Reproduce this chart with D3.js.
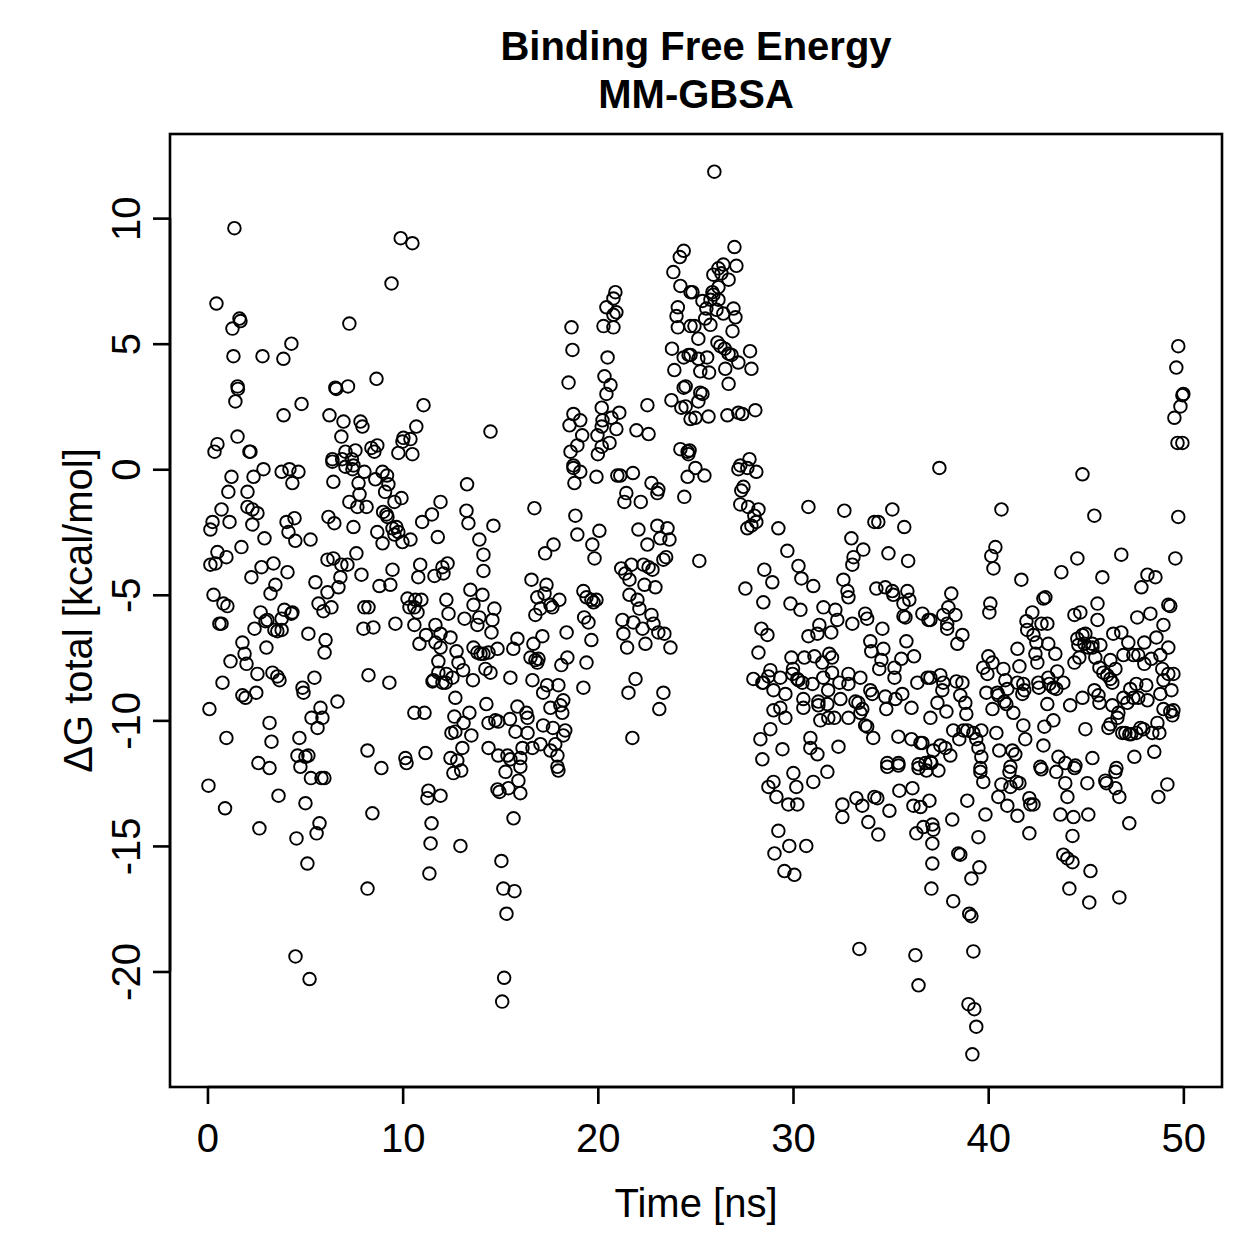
<!DOCTYPE html>
<html>
<head>
<meta charset="utf-8">
<script src="https://cdn.jsdelivr.net/npm/d3@7"></script>
<style>
  body { margin: 0; background: #fff; }
  text { font-family: "Liberation Sans", Arial, Helvetica, sans-serif; fill: #000; }
</style>
</head>
<body>
<svg id="chart"></svg>
<script>
// [time (ns), dG total (kcal/mol)], grouped by region
const upper_0_12 = [[1.38,9.6],[9.9,9.2],[10.5,9.0],[9.43,7.4],[0.46,6.6],[1.64,6.0],[1.69,5.9],[1.28,5.6],[7.27,5.8],[1.33,4.5],[2.82,4.5],[3.89,4.4],[4.3,5.0],[1.54,3.3],[1.56,3.2],[1.43,2.7],[6.6,3.2],[6.55,3.25],[7.2,3.3],[8.66,3.6],[4.82,2.6],[3.9,2.15],[11.07,2.55],[6.25,2.15],[6.97,1.9],[7.84,1.9],[7.94,1.7],[6.86,1.3],[10.7,1.7],[10.04,1.25],[9.99,1.1],[10.4,1.2],[9.78,0.65],[10.5,0.6],[1.54,1.3],[0.51,1.0],[0.36,0.7],[2.15,0.7],[2.2,0.7],[7.07,0.7],[7.58,0.75],[8.4,0.85],[8.7,0.95],[8.55,0.7],[6.4,0.4],[6.9,0.4],[7.4,0.4]];

const upper_12_25 = [[14.5,1.5],[18.65,5.65],[18.7,4.75],[18.5,3.45],[20.9,7.05],[20.8,6.8],[20.44,6.45],[20.95,6.25],[20.8,6.15],[20.29,5.7],[20.8,5.65],[20.5,4.45],[20.34,3.7],[20.65,3.35],[20.44,3.0],[20.2,2.45],[21.1,2.25],[20.7,2.05],[20.24,1.95],[20.2,1.7],[20.95,1.6],[19.98,1.35],[20.6,1.05],[20.2,0.9],[20.0,0.6],[22.54,2.55],[21.98,1.55],[22.6,1.4],[18.75,2.2],[19.1,1.95],[18.55,1.75],[19.2,1.35],[18.95,0.95],[18.6,0.7],[18.75,0.15],[24.4,8.7],[24.2,8.45],[23.87,7.85],[24.23,7.3],[24.75,7.05],[24.1,6.45],[24.03,6.1],[24.1,5.65],[24.75,5.7],[23.8,4.8],[24.4,4.45],[24.65,4.55],[23.92,3.95],[24.4,3.25],[23.77,2.75],[24.28,2.45],[24.5,2.5],[24.23,0.8],[24.6,0.7],[24.75,2.0]];

const upper_25_50 = [[25.97,11.85],[27.0,8.85],[26.43,8.15],[26.18,8.0],[25.92,7.75],[26.33,7.8],[26.7,7.55],[27.1,8.1],[26.18,7.25],[25.87,7.05],[25.92,6.95],[25.77,6.75],[26.18,6.75],[25.36,6.7],[24.85,7.05],[26.95,6.4],[27.05,6.05],[26.43,6.2],[26.08,6.35],[25.56,6.4],[25.5,6.0],[25.77,5.75],[24.95,5.7],[26.9,5.5],[25.15,5.2],[26.13,5.05],[26.28,4.9],[26.5,4.8],[26.7,4.6],[26.85,4.55],[27.2,4.25],[26.53,4.0],[26.7,3.4],[27.8,4.7],[27.87,4.0],[24.75,4.55],[25.15,4.4],[25.6,4.45],[25.25,3.9],[25.7,3.85],[24.5,3.3],[25.25,3.05],[25.36,3.0],[25.15,2.7],[25.0,2.05],[25.67,2.1],[26.64,2.15],[27.2,2.25],[27.4,2.2],[28.07,2.35],[24.7,0.75],[24.64,0.6],[27.77,0.4],[27.3,0.15],[49.74,4.9],[49.64,4.05],[50.0,3.0],[49.95,2.95],[49.85,2.5],[49.54,2.05],[49.7,1.05],[49.95,1.05],[37.5,0.05]];

const mid_0_12 = [[2.87,0.0],[3.8,-0.1],[4.2,0.0],[4.66,-0.1],[4.35,-0.55],[2.36,-0.3],[1.23,-0.3],[1.07,-0.9],[2.05,-0.9],[6.4,0.3],[7.07,0.1],[7.43,0.0],[7.48,0.15],[8.04,-0.1],[6.45,-0.5],[8.6,-0.4],[8.97,-0.1],[9.2,-0.25],[9.27,-0.6],[9.1,-0.9],[7.74,-0.55],[7.79,-1.0],[7.27,-1.3],[7.68,-1.5],[8.15,-1.5],[9.58,-1.3],[9.94,-1.15],[11.94,-1.3],[0.72,-1.6],[2.05,-1.5],[2.3,-1.6],[2.56,-1.75],[0.26,-2.1],[0.15,-2.4],[1.13,-2.1],[2.3,-2.2],[4.05,-2.1],[4.46,-1.95],[4.15,-2.5],[4.5,-2.85],[2.92,-2.75],[5.28,-2.8],[6.2,-1.9],[6.5,-2.15],[7.48,-2.3],[9.0,-1.7],[9.17,-1.8],[9.22,-1.9],[8.7,-2.5],[8.97,-2.95],[9.48,-2.35],[9.68,-2.3],[9.78,-2.5],[9.58,-2.6],[9.99,-2.9],[10.4,-2.8],[11.0,-2.1],[11.5,-1.8],[11.8,-2.7],[1.74,-3.1],[0.51,-3.3],[0.97,-3.5],[0.15,-3.8],[0.41,-3.75],[2.77,-3.9],[3.38,-3.75],[4.1,-4.1],[2.25,-4.3],[3.48,-4.6],[3.23,-4.95],[6.15,-3.6],[6.45,-3.55],[6.86,-3.8],[7.17,-3.8],[7.63,-3.35],[6.81,-4.3],[6.71,-4.7],[5.53,-4.5],[6.15,-4.9],[7.89,-4.2],[8.81,-4.65],[9.37,-4.6],[9.48,-4.0],[10.9,-3.8],[10.8,-4.3],[11.63,-4.25],[12.04,-3.9],[12.09,-4.15],[0.31,-5.0],[0.82,-5.35],[1.02,-5.45],[0.61,-6.15],[0.72,-6.15],[2.72,-5.7],[3.07,-6.0],[2.97,-6.05],[3.94,-5.6],[4.3,-5.75],[4.35,-5.7],[3.8,-5.95],[3.43,-6.4],[3.8,-6.4],[3.58,-6.45],[2.41,-6.35],[5.69,-5.35],[5.94,-5.65],[6.35,-5.5],[8.04,-5.5],[8.25,-5.5],[7.99,-6.35],[8.5,-6.3],[9.63,-6.15],[10.25,-5.15],[10.65,-5.2],[10.96,-5.2],[10.6,-5.5],[10.76,-5.7],[10.35,-5.5],[10.6,-6.2],[11.2,-6.6],[11.68,-6.2],[11.94,-6.55],[10.86,-6.95],[11.68,-6.9],[11.94,-7.1],[11.83,-7.65],[11.83,-8.1],[11.53,-8.45],[5.17,-6.55],[6.05,-6.8],[6.0,-7.3],[1.79,-6.9],[1.9,-7.35],[2.0,-7.75],[1.18,-7.65],[3.02,-7.1],[2.56,-8.15],[3.33,-8.1],[3.58,-8.25],[3.69,-8.4],[0.77,-8.5],[5.48,-8.3],[4.87,-8.7],[4.92,-8.9],[1.79,-9.0],[1.95,-9.1],[2.5,-8.9],[6.66,-9.25],[8.25,-8.2],[9.32,-8.5],[0.1,-9.55],[3.18,-10.1],[3.28,-10.85],[0.97,-10.7],[5.79,-9.5],[5.33,-9.9],[5.89,-9.9],[5.64,-10.3],[4.71,-10.7],[4.61,-11.4],[5.02,-11.45],[5.17,-11.4],[4.76,-11.85],[2.61,-11.7],[3.18,-11.9],[8.2,-11.2],[10.6,-9.7],[11.12,-9.7],[10.14,-11.5],[10.2,-11.7],[11.17,-11.3],[8.91,-11.9],[11.58,-8.4],[12.04,-8.5]];

const mid_12_25 = [[13.3,-0.6],[13.27,-1.65],[13.37,-2.15],[14.65,-2.25],[13.93,-2.8],[14.14,-3.4],[14.14,-4.05],[12.3,-3.75],[13.47,-4.8],[14.09,-5.0],[13.63,-5.4],[14.7,-5.55],[13.17,-5.95],[13.93,-5.9],[13.83,-6.2],[14.6,-6.0],[14.55,-6.5],[12.24,-5.2],[12.35,-5.75],[12.45,-6.7],[12.76,-7.25],[12.86,-7.7],[13.1,-8.0],[12.24,-8.15],[12.55,-8.3],[12.2,-8.5],[13.6,-8.4],[13.63,-7.1],[13.83,-7.3],[13.99,-7.35],[14.14,-7.35],[14.4,-7.3],[14.86,-7.15],[14.24,-7.95],[14.5,-8.1],[12.7,-9.1],[12.65,-9.85],[13.42,-9.7],[13.12,-10.1],[12.5,-10.5],[12.7,-10.45],[13.52,-10.6],[13.06,-11.1],[12.45,-11.5],[12.8,-11.6],[14.29,-9.35],[14.4,-10.1],[14.75,-10.0],[14.9,-10.05],[15.5,-9.95],[15.88,-9.45],[16.34,-9.7],[16.4,-9.9],[15.78,-10.45],[16.4,-10.5],[14.4,-11.1],[14.9,-11.4],[15.37,-11.4],[15.52,-11.55],[16.03,-11.5],[16.14,-11.1],[16.65,-11.1],[17.06,-10.95],[17.2,-10.2],[17.7,-10.3],[18.23,-9.2],[18.18,-9.7],[18.33,-10.4],[18.23,-10.6],[17.82,-10.95],[17.57,-11.2],[17.93,-11.4],[17.93,-11.85],[16.6,-4.4],[17.37,-4.6],[16.9,-5.1],[17.27,-4.95],[17.57,-5.4],[16.8,-5.8],[17.06,-5.55],[18.03,-5.2],[17.67,-5.5],[16.75,-1.55],[17.73,-3.0],[17.3,-3.35],[17.16,-6.65],[15.88,-6.75],[15.67,-7.15],[16.7,-6.95],[16.55,-7.5],[16.8,-7.6],[16.96,-7.55],[16.9,-7.7],[15.52,-8.3],[16.65,-8.4],[17.4,-8.6],[17.98,-8.6],[17.2,-8.9],[17.57,-9.5],[18.08,-9.4],[18.4,-6.5],[18.44,-7.5],[18.13,-7.8],[18.85,-1.85],[18.95,-2.6],[19.72,-3.0],[19.83,-3.55],[20.08,-2.45],[18.75,0.05],[19.1,-0.1],[18.8,-0.55],[19.93,-0.3],[19.26,-4.85],[19.42,-5.1],[19.67,-5.2],[19.78,-5.3],[19.93,-5.2],[19.3,-5.9],[19.52,-6.1],[19.67,-6.8],[19.42,-7.7],[19.26,-8.7],[21.0,-0.25],[21.15,-0.25],[21.8,-0.15],[21.46,-0.95],[21.36,-1.3],[22.2,-1.3],[22.75,-0.55],[23.05,-0.95],[23.1,-0.8],[24.43,-1.1],[24.6,-0.3],[22.08,-2.4],[23.05,-2.25],[23.57,-2.35],[22.54,-3.0],[23.2,-2.75],[23.67,-2.8],[23.5,-3.5],[23.36,-3.6],[21.2,-3.95],[21.41,-4.15],[21.72,-3.8],[22.34,-3.8],[22.6,-3.9],[22.8,-4.0],[21.62,-4.4],[22.39,-4.6],[22.95,-4.7],[21.62,-5.0],[22.03,-5.2],[22.13,-5.55],[22.75,-5.8],[22.85,-6.15],[21.26,-6.0],[21.82,-6.1],[22.29,-6.35],[21.31,-6.55],[21.5,-7.1],[22.44,-6.95],[23.1,-6.5],[23.41,-6.55],[23.72,-7.1],[21.93,-8.35],[21.57,-8.9],[23.36,-8.9],[23.15,-9.55],[21.77,-10.7]];

const mid_25_37 = [[25.0,0.05],[25.46,-0.25],[27.2,0.0],[27.66,0.05],[28.12,-0.1],[27.46,-0.7],[27.35,-0.85],[27.3,-1.4],[27.7,-1.5],[28.23,-1.6],[28.02,-1.85],[28.12,-2.1],[27.66,-2.35],[27.87,-2.25],[29.25,-2.35],[30.79,-1.5],[32.63,-1.65],[34.17,-2.1],[34.37,-2.1],[35.09,-1.6],[35.7,-2.3],[25.2,-3.65],[29.71,-3.25],[28.53,-4.0],[28.94,-4.5],[27.56,-4.75],[28.48,-5.3],[30.28,-3.85],[30.43,-4.35],[31.04,-4.65],[32.99,-2.75],[33.6,-3.2],[33.1,-3.5],[33.04,-3.8],[32.58,-4.4],[32.79,-4.85],[32.84,-5.1],[34.89,-3.35],[35.9,-3.65],[34.27,-4.75],[34.73,-4.7],[35.09,-4.85],[35.14,-5.0],[35.86,-4.85],[35.66,-5.35],[35.96,-5.2],[36.63,-5.75],[36.94,-6.0],[35.66,-5.85],[35.76,-5.9],[29.87,-5.35],[30.38,-5.6],[28.38,-6.35],[28.69,-6.6],[28.23,-7.3],[31.56,-5.5],[32.17,-5.6],[32.27,-6.0],[31.35,-6.2],[31.96,-6.5],[31.25,-6.55],[30.79,-6.65],[33.04,-6.15],[33.7,-5.75],[33.8,-5.95],[34.58,-6.35],[33.96,-6.85],[34.01,-7.25],[34.63,-7.15],[34.53,-7.6],[34.42,-7.95],[35.2,-7.9],[35.55,-7.55],[36.2,-7.45],[35.81,-6.85],[29.92,-7.5],[30.58,-7.5],[31.1,-7.45],[31.5,-7.7],[31.86,-7.35],[32.0,-7.5],[30.0,-7.95],[30.22,-8.35],[29.97,-8.15],[28.84,-8.0],[28.74,-8.25],[27.97,-8.35],[28.43,-8.5],[28.48,-8.5],[29.35,-8.3],[29.0,-8.8],[29.61,-8.95],[30.28,-8.4],[30.48,-8.5],[31.0,-8.55],[31.55,-8.3],[32.0,-8.1],[31.8,-8.8],[32.38,-8.5],[32.84,-8.15],[32.84,-8.55],[33.45,-8.3],[33.96,-8.8],[30.53,-9.15],[30.53,-9.5],[31.3,-9.25],[31.3,-9.4],[31.76,-9.35],[32.43,-9.15],[33.2,-9.25],[33.35,-9.3],[33.55,-9.55],[34.06,-8.95],[34.73,-9.05],[34.78,-9.55],[35.25,-9.15],[35.6,-8.95],[35.2,-8.3],[36.07,-9.5],[36.37,-8.5],[36.89,-8.3],[29.0,-9.6],[29.35,-9.5],[29.61,-9.9],[28.84,-10.35],[28.33,-10.75],[28.43,-11.55],[29.46,-11.15],[30.89,-10.7],[30.89,-11.1],[31.25,-11.35],[31.4,-10.0],[31.81,-9.9],[32.12,-9.9],[32.84,-9.9],[33.45,-9.7],[33.7,-10.2],[33.8,-10.25],[34.11,-10.7],[32.33,-11.05],[35.4,-10.65],[36.07,-10.75],[36.53,-10.9],[36.63,-10.9],[37.19,-11.2],[34.83,-11.7],[35.4,-11.7],[36.43,-11.75],[36.78,-11.7],[37.09,-11.7]];

const mid_37_50 = [[44.83,-0.2],[40.68,-1.6],[45.44,-1.85],[49.74,-1.9],[40.37,-3.1],[40.16,-3.45],[40.27,-3.95],[41.7,-4.4],[43.75,-4.1],[44.57,-3.55],[46.82,-3.4],[49.59,-3.55],[45.85,-4.3],[48.16,-4.2],[48.57,-4.3],[47.85,-4.7],[38.11,-4.95],[37.96,-5.5],[38.32,-5.8],[37.7,-5.8],[37.04,-6.0],[37.9,-6.15],[37.9,-6.35],[38.68,-6.6],[38.42,-6.95],[40.11,-5.35],[40.06,-5.7],[42.93,-5.1],[42.83,-5.15],[42.26,-5.7],[41.96,-6.05],[42.73,-6.15],[43.03,-6.15],[42.0,-6.4],[42.32,-6.6],[42.47,-6.9],[43.08,-6.95],[42.42,-7.35],[42.52,-7.7],[43.44,-7.35],[41.5,-7.15],[41.6,-7.85],[40.01,-7.45],[40.22,-7.7],[39.75,-7.9],[39.96,-8.15],[40.78,-7.95],[40.88,-8.4],[40.98,-8.75],[40.47,-8.9],[40.52,-9.0],[40.83,-9.25],[40.93,-9.35],[39.91,-8.9],[40.22,-9.55],[41.29,-9.7],[41.5,-8.5],[41.8,-8.55],[41.85,-8.8],[41.75,-8.95],[42.57,-8.5],[43.08,-8.3],[43.13,-8.55],[43.34,-8.7],[43.49,-8.75],[43.54,-8.05],[43.85,-8.5],[42.6,-8.7],[43.03,-9.35],[43.34,-10.0],[42.88,-10.25],[42.83,-11.0],[44.2,-9.4],[44.83,-9.1],[45.44,-8.8],[45.65,-9.0],[45.7,-9.3],[44.57,-6.75],[44.62,-7.0],[44.83,-6.6],[44.93,-6.95],[44.98,-6.55],[45.34,-6.95],[45.75,-7.0],[45.34,-7.1],[45.49,-7.5],[44.42,-7.7],[44.67,-7.5],[45.13,-7.1],[44.42,-5.8],[44.72,-5.7],[45.6,-5.35],[45.6,-6.0],[45.7,-7.9],[45.9,-8.1],[46.1,-8.2],[46.26,-8.35],[46.36,-8.5],[46.26,-7.6],[46.52,-7.95],[46.41,-6.55],[46.82,-6.5],[46.93,-7.4],[47.18,-6.9],[47.44,-7.4],[47.69,-7.4],[48.0,-6.9],[48.62,-6.7],[48.98,-6.2],[48.31,-5.75],[47.64,-5.9],[49.23,-7.1],[48.82,-7.4],[48.0,-7.75],[48.36,-7.55],[48.92,-7.95],[49.23,-8.15],[49.49,-8.15],[49.23,-5.4],[49.33,-5.45],[48.98,-8.4],[49.39,-8.8],[47.59,-8.55],[48.1,-8.6],[47.28,-8.75],[47.44,-9.1],[46.93,-9.1],[47.13,-9.3],[47.69,-9.1],[48.16,-9.2],[48.82,-8.95],[48.98,-9.55],[49.33,-9.65],[49.49,-9.6],[49.44,-9.8],[46.67,-9.7],[46.62,-9.9],[46.16,-10.3],[46.26,-10.15],[46.87,-10.5],[47.03,-10.5],[47.23,-10.55],[47.33,-10.55],[47.59,-10.5],[47.8,-10.3],[47.95,-10.35],[48.41,-10.5],[48.67,-10.1],[48.77,-10.5],[46.36,-9.4],[44.98,-10.35],[45.34,-11.5],[47.49,-11.45],[48.51,-11.25],[46.57,-11.9],[37.04,-8.3],[37.55,-8.2],[37.7,-8.5],[37.65,-8.8],[38.37,-8.45],[38.68,-8.5],[38.57,-9.0],[38.83,-9.3],[38.88,-9.75],[37.4,-9.3],[37.86,-9.65],[37.04,-9.9],[38.21,-10.4],[38.52,-10.75],[38.73,-10.4],[38.93,-10.4],[39.24,-10.5],[39.65,-10.4],[39.39,-10.75],[39.5,-11.1],[39.65,-11.45],[40.42,-10.5],[41.8,-10.2],[41.9,-10.75],[40.57,-11.2],[41.24,-11.2],[41.39,-11.35],[37.55,-11.0],[37.8,-11.1],[38.06,-11.4],[37.04,-11.65],[39.6,-11.9],[41.14,-11.85],[42.67,-11.85],[43.6,-11.45],[43.95,-11.7],[44.47,-11.8]];

const lower_0_25 = [[0.05,-12.6],[0.9,-13.5],[2.66,-14.3],[3.64,-13.0],[5.02,-13.3],[5.3,-12.3],[5.84,-12.3],[5.99,-12.3],[5.74,-14.1],[5.59,-14.5],[4.56,-14.7],[5.12,-15.7],[8.2,-16.7],[8.45,-13.7],[11.32,-12.8],[11.27,-13.1],[11.94,-13.0],[11.48,-14.1],[11.43,-14.9],[11.37,-16.1],[4.51,-19.4],[5.23,-20.3],[12.6,-12.1],[13.0,-12.0],[15.27,-12.05],[16.03,-11.85],[15.93,-12.4],[15.42,-12.7],[14.86,-12.75],[14.96,-12.85],[16.03,-12.9],[17.98,-12.0],[15.68,-13.9],[12.96,-15.0],[15.06,-15.6],[15.16,-16.7],[15.73,-16.8],[15.32,-17.7],[15.2,-20.25],[15.1,-21.2]];

const lower_25_37 = [[29.0,-12.45],[28.74,-12.65],[29.15,-13.05],[30.02,-12.1],[30.17,-12.65],[29.76,-13.35],[30.22,-13.35],[31.04,-12.45],[31.76,-12.05],[29.25,-14.4],[29.81,-15.0],[30.68,-15.0],[29.05,-15.3],[29.56,-16.0],[30.07,-16.15],[32.53,-13.35],[32.53,-13.85],[33.25,-13.1],[33.55,-13.4],[34.17,-13.05],[34.32,-13.1],[33.86,-14.05],[34.37,-14.55],[34.94,-13.6],[35.45,-12.8],[36.12,-12.7],[36.17,-13.4],[36.53,-13.45],[36.99,-13.2],[36.32,-14.5],[36.68,-14.25],[37.14,-14.15],[37.19,-14.35],[37.14,-14.9],[37.14,-15.7],[37.09,-16.7],[34.83,-11.85],[35.4,-11.8],[36.43,-11.9],[36.84,-12.0],[33.4,-19.1],[36.27,-19.35],[36.43,-20.55]];

const lower_37_50 = [[37.45,-12.0],[39.6,-12.05],[39.75,-12.45],[41.09,-12.05],[40.68,-12.55],[41.14,-12.65],[41.45,-12.45],[41.6,-12.5],[40.52,-13.05],[40.98,-13.4],[41.5,-13.8],[42.11,-13.1],[42.16,-13.35],[42.32,-13.35],[42.73,-11.95],[43.49,-12.05],[43.95,-12.5],[44.06,-13.05],[44.42,-11.9],[45.08,-12.5],[45.13,-13.75],[44.37,-13.85],[43.7,-13.75],[46.0,-12.4],[46.06,-12.5],[46.52,-12.05],[46.52,-12.7],[46.72,-13.05],[48.72,-13.05],[49.18,-12.55],[47.23,-14.1],[38.16,-13.95],[38.93,-13.2],[39.86,-13.75],[39.5,-14.65],[38.47,-15.3],[38.57,-15.35],[39.55,-15.85],[39.14,-16.3],[38.21,-17.2],[39.03,-17.7],[39.14,-17.8],[39.24,-19.2],[38.99,-21.3],[39.29,-21.5],[39.39,-22.2],[39.19,-23.3],[42.11,-14.5],[44.32,-14.6],[43.85,-15.35],[44.06,-15.5],[44.32,-15.65],[45.24,-16.0],[44.16,-16.7],[45.18,-17.25],[46.72,-17.05]];

const xTicks = [0, 10, 20, 30, 40, 50];
const yTicks = [-20, -15, -10, -5, 0, 5, 10];
const titleLines = ["Binding Free Energy", "MM-GBSA"];
const xLabel = "Time [ns]";
const yLabel = "\u0394G total [kcal/mol]";

class ScatterPlot {
  constructor(_config, _data) {
    this.config = {
      parentElement: _config.parentElement,
      containerWidth: _config.containerWidth || 1259,
      containerHeight: _config.containerHeight || 1259,
      margin: _config.margin || { top: 134, right: 37, bottom: 172, left: 170 },
      fontSize: _config.fontSize || 40,
    };
    this.data = _data;
    this.initVis();
  }

  initVis() {
    let vis = this;
    const m = vis.config.margin;
    const fs = vis.config.fontSize;
    vis.width  = vis.config.containerWidth  - m.left - m.right;
    vis.height = vis.config.containerHeight - m.top  - m.bottom;

    vis.svg = d3.select(vis.config.parentElement)
      .attr("width", vis.config.containerWidth)
      .attr("height", vis.config.containerHeight)
      .style("background", "#fff");

    // R pads the data range by 4% on each side
    vis.xScale = d3.scaleLinear().domain([-1.92, 51.98]).range([m.left, m.left + vis.width]);
    vis.yScale = d3.scaleLinear().domain([-24.6, 13.35]).range([m.top + vis.height, m.top]);

    // points
    vis.svg.append("g")
      .selectAll("circle")
      .data(vis.data)
      .enter()
      .append("circle")
        .attr("cx", d => vis.xScale(d[0]))
        .attr("cy", d => vis.yScale(d[1]))
        .attr("r", 6.3)
        .attr("fill", "none")
        .attr("stroke", "#000")
        .attr("stroke-width", 1.9);

    // box
    vis.svg.append("rect")
      .attr("x", m.left)
      .attr("y", m.top)
      .attr("width", vis.width)
      .attr("height", vis.height)
      .attr("fill", "none")
      .attr("stroke", "#000")
      .attr("stroke-width", 2.6);

    // x axis
    const xAxis = d3.axisBottom(vis.xScale)
      .tickValues(xTicks)
      .tickSize(17)
      .tickSizeOuter(0)
      .tickPadding(20);
    const gx = vis.svg.append("g")
      .attr("transform", `translate(0, ${m.top + vis.height})`)
      .call(xAxis);
    gx.select(".domain")
      .attr("d", `M${vis.xScale(0)},0H${vis.xScale(50)}`)
      .attr("stroke-width", 2.6);
    gx.selectAll(".tick line").attr("stroke-width", 2.6);
    gx.selectAll(".tick text")
      .style("font-family", "'Liberation Sans', Arial, sans-serif")
      .style("font-size", fs + "px");

    // y axis, labels rotated like R's default las = 0
    const yAxis = d3.axisLeft(vis.yScale)
      .tickValues(yTicks)
      .tickSize(17)
      .tickSizeOuter(0)
      .tickFormat(d => d < 0 ? "-" + Math.abs(d) : d);
    const gy = vis.svg.append("g")
      .attr("transform", `translate(${m.left}, 0)`)
      .call(yAxis);
    gy.select(".domain")
      .attr("d", `M0,${vis.yScale(-20)}V${vis.yScale(10)}`)
      .attr("stroke-width", 2.6);
    gy.selectAll(".tick line").attr("stroke-width", 2.6);
    gy.selectAll(".tick text")
      .attr("x", null)
      .attr("dy", null)
      .attr("transform", "translate(-30, 0) rotate(-90)")
      .attr("text-anchor", "middle")
      .style("font-family", "'Liberation Sans', Arial, sans-serif")
      .style("font-size", fs + "px");

    // title
    vis.svg.selectAll("text.chart-title")
      .data(titleLines)
      .enter()
      .append("text")
        .attr("class", "chart-title")
        .attr("x", m.left + vis.width / 2)
        .attr("y", (d, i) => 60 + i * 48)
        .attr("text-anchor", "middle")
        .style("font-size", fs + "px")
        .style("font-weight", "bold")
        .text(d => d);

    // axis titles
    vis.svg.append("text")
      .attr("x", m.left + vis.width / 2)
      .attr("y", 1217)
      .attr("text-anchor", "middle")
      .style("font-size", fs + "px")
      .text(xLabel);

    vis.svg.append("text")
      .attr("transform", `translate(92, ${m.top + vis.height / 2}) rotate(-90)`)
      .attr("text-anchor", "middle")
      .style("font-size", fs + "px")
      .text(yLabel);
  }
}

const allPoints = [].concat(upper_0_12, upper_12_25, upper_25_50,
  mid_0_12, mid_12_25, mid_25_37, mid_37_50,
  lower_0_25, lower_25_37, lower_37_50);

new ScatterPlot({ parentElement: "#chart" }, allPoints);
</script>
</body>
</html>
